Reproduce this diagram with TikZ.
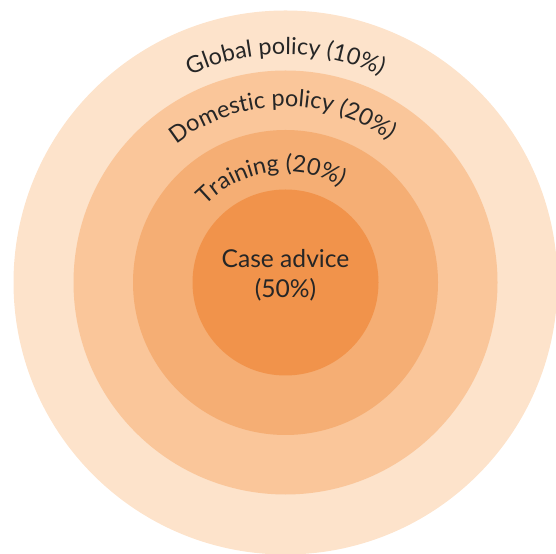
\documentclass[tikz,border=0pt]{standalone}
\usepackage{fontspec}
\setmainfont{Lato}
\usetikzlibrary{decorations.text, calc}

\definecolor{ringA}{HTML}{FDE3CB}
\definecolor{ringB}{HTML}{FAC69A}
\definecolor{ringC}{HTML}{F5AE74}
\definecolor{ringD}{HTML}{F1934B}

\newcommand\ringfont{\fontsize{13.3}{16}\selectfont}
\newcommand\corefont{\fontsize{14}{17}\selectfont}

\begin{document}
\begin{tikzpicture}[
      label/.style={font=\corefont, text=black!85},
      arclabel/.style={decorate, decoration={text along path, text align=center,
          text format delimiters={[}{]}, text={[\ringfont\color{black!85}]#1}}}
    ]
      \useasboundingbox (0,0) rectangle (11.12,11.06);
      \coordinate (c) at (5.71,5.41);
      % rings, from the outside in
      \fill[ringA] (c) circle[radius=5.44];
      \fill[ringB] (c) circle[radius=4.24];
      \fill[ringC] (c) circle[radius=3.05];
      \fill[ringD] (c) circle[radius=1.86];
      % curved labels over the top of each ring
      \path[arclabel={Global policy (10{\%})}]
        ($(c)+(180:4.56)$) arc[start angle=180, end angle=0, radius=4.56];
      \path[arclabel={Domestic policy (20{\%})}]
        ($(c)+(181:3.52)$) arc[start angle=181, end angle=1, radius=3.52];
      \path[arclabel={Training (20{\%})}]
        ($(c)+(188:2.22)$) arc[start angle=188, end angle=8, radius=2.22];
      \node[label, align=center] (core) at (5.71,5.56) {Case advice\\(50\%)};
    \end{tikzpicture}
\end{document}
